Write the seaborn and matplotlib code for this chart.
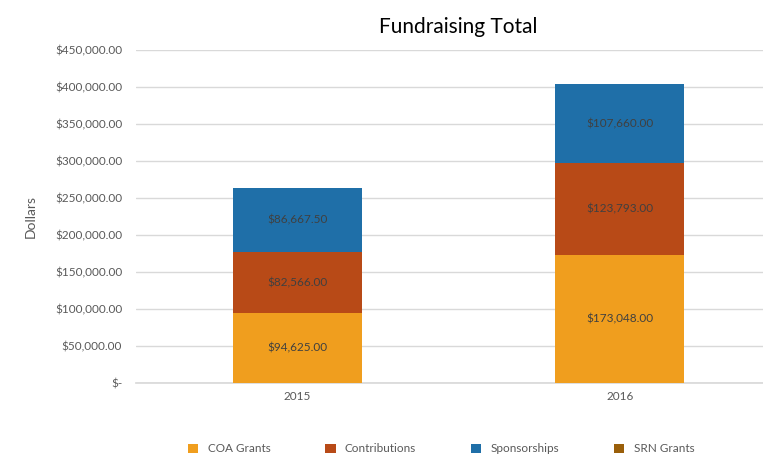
import matplotlib
matplotlib.use("Agg")
import matplotlib.pyplot as plt
import seaborn as sns
import numpy as np
from matplotlib.patches import Patch
from matplotlib.ticker import FuncFormatter, MultipleLocator

years = ["2015", "2016"]
coa_grants = [94625.00, 173048.00]
contributions = [82566.00, 123793.00]
sponsorships = [86667.50, 107660.00]
srn_grants = [0.0, 0.0]

series_names = ["COA Grants", "Contributions", "Sponsorships", "SRN Grants"]
series_vals = [coa_grants, contributions, sponsorships, srn_grants]
colors = ["#F09E1E", "#B84A17", "#1F6FA8", "#9A5F0A"]

sns.set_theme(style="white")
plt.rcParams["font.family"] = ["Lato", "DejaVu Sans"]

fig = plt.figure(figsize=(7.63, 4.55), dpi=100)
ax = fig.add_axes([136/763, 1-383/455, (781-136)/763, (383-50)/455])

cum = np.cumsum(np.array(series_vals[:3]), axis=0)
# draw from top (largest cumulative) to bottom
for i in [2, 1, 0]:
    sns.barplot(x=years, y=cum[i], color=colors[i], width=0.4, ax=ax,
                saturation=1, linewidth=0, zorder=3)

for i in range(3):
    for j, yr in enumerate(years):
        bottom = cum[i][j] - series_vals[i][j]
        mid = bottom + series_vals[i][j] / 2
        ax.text(j, mid, f"${series_vals[i][j]:,.2f}", ha="center", va="center",
                fontsize=8.5, color="#404040", zorder=4)

ax.set_ylim(0, 450000)
ax.set_xlim(-0.5, 1.5)
ax.yaxis.set_major_locator(MultipleLocator(50000))
ax.yaxis.set_major_formatter(FuncFormatter(lambda v, p: "$-" if v == 0 else f"${v:,.2f}"))
ax.grid(axis="y", color="#d9d9d9", linewidth=1, zorder=0)
ax.set_axisbelow(True)
for s in ["top", "right", "left"]:
    ax.spines[s].set_visible(False)
ax.spines["bottom"].set_color("#d9d9d9")
ax.tick_params(axis="y", labelsize=8.5, labelcolor="#595959", length=0, pad=10)
ax.tick_params(axis="x", labelsize=8.5, labelcolor="#595959", length=0, pad=6)
ax.set_ylabel("Dollars", fontsize=10, color="#595959", labelpad=13)
ax.set_xlabel("")
ax.set_title("Fundraising Total", fontsize=15, color="#000000", pad=12)

handles = [Patch(facecolor=c, edgecolor="none") for c in colors]
fig.legend(handles, series_names, loc="center", bbox_to_anchor=(441/763, 1-449/455),
           ncol=4, frameon=False, fontsize=8.5, handlelength=0.9, handleheight=0.9,
           columnspacing=4.6, handletextpad=0.8, labelcolor="#595959")

fig.savefig("out.png", dpi=100)
